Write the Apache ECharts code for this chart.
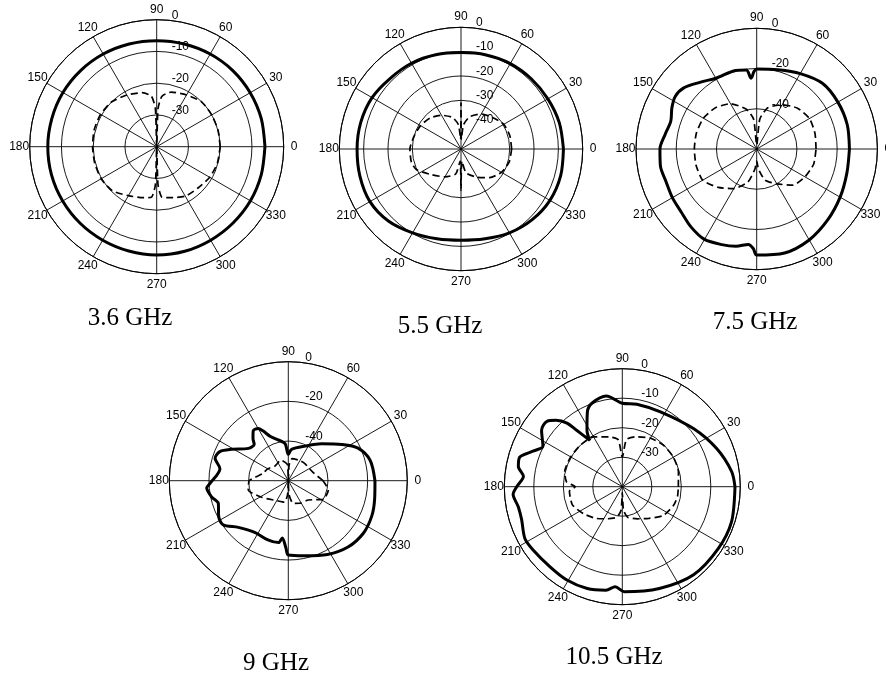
<!DOCTYPE html>
<html><head><meta charset="utf-8">
<script src="https://cdn.jsdelivr.net/npm/echarts@6/dist/echarts.min.js"></script>
<style>html,body{margin:0;padding:0;background:#fff}#c{width:886px;height:677px}</style>
</head><body><div id="c"></div>
<script>
// ---------- data (dB vs angle in degrees) ----------
const angleTicks = [0, 30, 60, 90, 120, 150, 180, 210, 240, 270, 300, 330];

// 3.6 GHz
const ang36co = [0,15,30,45,60,75,90,105,120,135,150,165,180,195,210,225,240,255,270,285,300,315,330,345,360];
const val36co = [-5.9,-5.9,-6.0,-6.1,-6.3,-6.5,-6.6,-6.5,-6.3,-6.1,-5.9,-5.8,-5.7,-5.7,-5.8,-5.9,-6.0,-6.0,-5.9,-5.9,-6.0,-6.0,-5.9,-5.9,-5.9];
const ang36x = [0,15,30,45,60,75,84,88,90,92,96,105,120,135,150,165,180,195,210,225,240,255,264,268,270,272,276,285,300,315,330,345,360];
const val36x = [-20,-20,-20,-20,-21.2,-22.2,-24,-28,-40,-28,-24,-22.4,-21.2,-20,-19.6,-19.6,-19.8,-19.8,-19.8,-20.3,-22.2,-23.4,-24,-28,-40,-28,-24,-23.4,-22,-21.6,-20.7,-20.2,-20];
const rLabels36 = ['0', '-10', '-20', '-30'];

// 5.5 GHz
const ang55co = [0,15,30,45,60,75,90,105,120,135,150,165,180,195,210,225,240,255,270,285,300,315,330,345,360];
const val55co = [-7.9,-8.2,-8.8,-9.2,-9.5,-10.0,-10.4,-9.9,-9.3,-8.9,-7.8,-7.4,-7.3,-7.0,-6.8,-8.0,-10.2,-11.8,-12.5,-11.8,-10.2,-8.8,-7.8,-7.6,-7.9];
const ang55x = [0,15,30,45,60,75,84,88,90,92,96,105,120,135,150,165,180,195,205,221,240,258,266,270,274,282,300,315,330,345,360];
const val55x = [-29.2,-29.2,-29.7,-31.7,-33.4,-36.3,-40,-46,-31,-46,-40,-36.6,-34,-32,-30.8,-30,-29,-28.9,-29.9,-33.9,-36.8,-39.5,-45,-33,-45,-40,-36.6,-33.4,-30.8,-29.5,-29.2];
const rLabels55 = ['0', '-10', '-20', '-30', '-40'];

// 7.5 GHz
const ang75co = [0,15,30,45,60,75,90,92,94.5,97.5,105,120,130,140,147,154,162,171,180,190,200,210,220,230,240,250,258,265,268,270,285,300,315,330,345,360];
const val75co = [-13.9,-13.4,-13.4,-13.8,-16.7,-19.2,-20.2,-21.5,-24.7,-20.4,-19.6,-19.4,-16.6,-12.7,-11.8,-13.1,-15.1,-13.9,-11.9,-11.4,-12.1,-11.6,-11.1,-9.3,-8.1,-9.4,-10.6,-12.4,-10.5,-7.3,-6.5,-7.8,-10.1,-12.1,-13.6,-13.9];
const ang75x = [0,15,30,45,60,75,84,90,96,105,120,135,150,165,180,195,210,225,240,255,265,270,275,285,300,315,330,345,360];
const val75x = [-30.5,-30,-29.7,-31.3,-34.6,-38.8,-45,-58,-45,-39.4,-34,-31,-29.4,-29,-29,-28.8,-29,-33,-37.3,-43,-50,-54,-50,-44,-40,-34.6,-32.3,-30.7,-30.5];
const rLabels75 = ['0', '-20', '-40'];

// 9 GHz
const ang9co = [0,14,25,34,48,64,84,90,95,104,112,117,120,125,130,133,141,151,157,163,170,182,185,192,198,207,214,223,237,251,261,264,268,270,282,298,312,325,337,348,360];
const val9co = [-16.3,-17.5,-21.2,-27.4,-35,-40.6,-44.1,-46.7,-41.2,-38.8,-36,-31.8,-29.6,-29.2,-32.3,-34.8,-34.1,-27.4,-22.5,-21.4,-25,-20.5,-18.7,-20.5,-22.9,-20.6,-20.3,-25.5,-28.9,-28.4,-28.4,-31,-26,-22.5,-21.3,-17.9,-15,-13.8,-14.3,-15.5,-16.3];
const ang9x = [0,20,45,60,80,87,90,93,110,132,150,165,180,193,212,240,260,267,270,273,282,300,316,332,347,360];
const val9x = [-42.5,-47,-48,-48.3,-48.7,-52,-60,-52,-49,-50,-48,-46.5,-40.3,-39.3,-44.2,-48.4,-49,-53,-60,-53,-48.3,-47,-46,-40,-39.3,-42.5];
const rLabels9 = ['0', '-20', '-40'];

// 10.5 GHz
const ang105co = [0,8,22,39,63,80,90,100,110,115,122,125,129,131,135,139,145,153,158,164,169,174,180,184,191,198,208,215,228,239,251,261,266,271,290,309,327,342,360];
const val105co = [-1.8,-2.6,-5.5,-8.8,-11.5,-11.6,-11.7,-8.8,-9.9,-12,-17.4,-20.8,-15.4,-11.4,-8.2,-6.2,-6.6,-9.8,-7.6,-3.8,-4.1,-6.3,-4.2,-2.9,-4.1,-4.1,-2.6,-2.9,-3.4,-3.2,-3.5,-4.5,-6,-4.4,-3.3,-1.6,-1.3,-1.1,-1.8];
const ang105x = [0,15,30,45,60,75,85,90,95,105,120,135,150,165,175,180,185,200,215,230,245,260,267,270,273,280,295,310,325,340,350,360];
const val105x = [-21,-20.3,-20,-20.2,-21,-22.5,-24,-30,-24,-22.5,-20.5,-20,-19.8,-19.8,-21,-24,-22,-22,-24,-26,-28,-29.5,-32,-38,-32,-29.5,-28,-26,-23,-21.5,-21,-21];
const rLabels105 = ['0', '-10', '-20', '-30'];

const titles = ['3.6 GHz', '5.5 GHz', '7.5 GHz', '9 GHz', '10.5 GHz'];

// ---------- layout / styling ----------
const plots = [
  { cx: 156.7, cy: 146.7, R: 127,   min: -40, step: 10, co: [ang36co, val36co],  x: [ang36x, val36x],   lab: rLabels36,  hide: [],  rm: -15, tx: 130, ty: 318 },
  { cx: 461,   cy: 149,   R: 121.7, min: -50, step: 10, co: [ang55co, val55co],  x: [ang55x, val55x],   lab: rLabels55,  hide: [1], rm: -15, tx: 440, ty: 326 },
  { cx: 756.7, cy: 149,   R: 120.7, min: -60, step: 20, co: [ang75co, val75co],  x: [ang75x, val75x],   lab: rLabels75,  hide: [],  rm: -15, tx: 755, ty: 322 },
  { cx: 288.3, cy: 480.7, R: 119,   min: -60, step: 20, co: [ang9co, val9co],    x: [ang9x, val9x],     lab: rLabels9,   hide: [],  rm: -17, tx: 276, ty: 663 },
  { cx: 622.3, cy: 486.7, R: 118,   min: -40, step: 10, co: [ang105co, val105co],x: [ang105x, val105x], lab: rLabels105, hide: [],  rm: -19, tx: 614, ty: 657 }
];

const polar = [], angleAxis = [], radiusAxis = [], series = [], graphic = [];
const sans = 'Liberation Sans, Arial, sans-serif';

plots.forEach((p, i) => {
  const a = 2 * i, b = 2 * i + 1;
  polar.push({ center: [p.cx, p.cy], radius: p.R });
  polar.push({ center: [p.cx, p.cy], radius: p.R });
  const nLines = Math.round(-p.min / p.step) + 1;
  const ringColors = [];
  for (let k = 0; k < nLines; k++) ringColors.push(p.hide.indexOf(k) >= 0 ? 'rgba(0,0,0,0)' : '#000');
  angleAxis.push({
    polarIndex: a, type: 'value', min: 0, max: 360, interval: 30,
    startAngle: 0, clockwise: false,
    axisLine: { show: true, lineStyle: { color: '#000', width: 1 } },
    axisTick: { show: false },
    axisLabel: { color: '#000', fontSize: 12, fontFamily: sans, margin: 10,
      formatter: v => (angleTicks.indexOf(v) >= 0 ? '{t|' + v + '}' : ''),
      rich: { t: { width: 1, height: 1, lineHeight: 1, align: 'center', verticalAlign: 'middle',
        fontSize: 12, fontFamily: sans, color: '#000' } } },
    splitLine: { show: true, lineStyle: { color: '#000', width: 0.9 } }
  });
  angleAxis.push({ polarIndex: b, type: 'value', min: 0, max: 360, startAngle: 90, show: false });
  radiusAxis.push({
    polarIndex: a, type: 'value', min: p.min, max: 0, interval: p.step,
    axisLine: { show: false }, axisTick: { show: false }, axisLabel: { show: false },
    splitLine: { show: true, lineStyle: { color: ringColors, width: 0.9 } }
  });
  radiusAxis.push({
    polarIndex: b, type: 'value', min: p.min, max: 0, interval: p.step,
    axisLine: { show: false }, axisTick: { show: false }, splitLine: { show: false },
    axisLabel: { show: true, color: '#000', fontSize: 12, fontFamily: sans, margin: p.rm,
      align: 'left', verticalAlign: 'bottom', lineHeight: 9,
      formatter: v => (p.lab.indexOf(String(v)) >= 0 ? String(v) : '') }
  });
  series.push({
    type: 'line', coordinateSystem: 'polar', polarIndex: a, showSymbol: false, smooth: 0.3,
    data: p.co[0].map((ang, k) => [p.co[1][k], ang]),
    lineStyle: { color: '#000', width: 3 }, z: 3, silent: true
  });
  series.push({
    type: 'line', coordinateSystem: 'polar', polarIndex: a, showSymbol: false, smooth: 0.2,
    data: p.x[0].map((ang, k) => [Math.max(p.min, p.x[1][k]), ang]),
    lineStyle: { color: '#000', width: 1.7, type: [7, 4] }, z: 2, silent: true
  });
  graphic.push({
    type: 'text', x: p.tx, y: p.ty,
    style: { text: titles[i], fill: '#000', font: '25px "Liberation Serif", "Times New Roman", serif',
      align: 'center', verticalAlign: 'middle' }
  });
});

const chart = echarts.init(document.getElementById('c'), null, { renderer: 'canvas' });
chart.setOption({
  animation: false,
  backgroundColor: '#fff',
  polar, angleAxis, radiusAxis, series, graphic
});
</script></body></html>
